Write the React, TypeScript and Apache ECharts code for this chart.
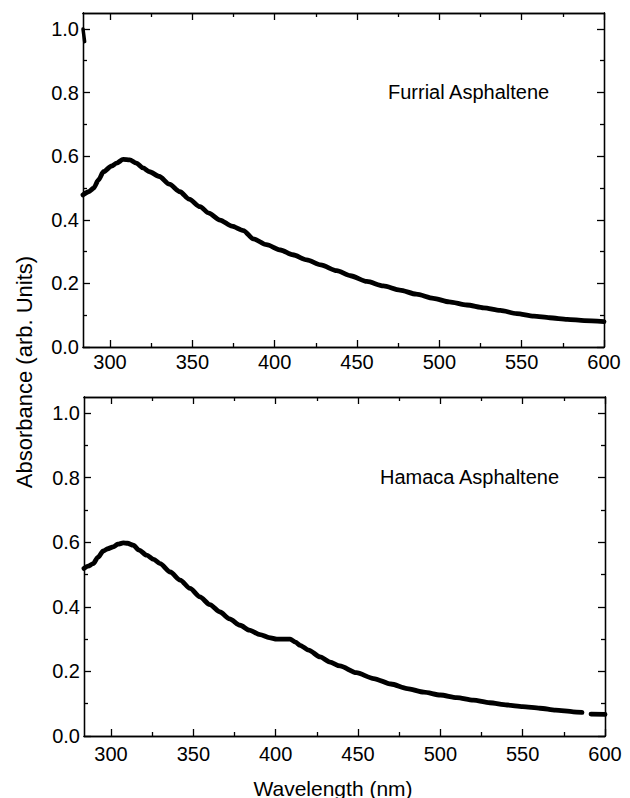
import React, { useEffect, useRef } from "react";
import * as echarts from "echarts";

// ---- data ----
const furrialWavelength = [283.6, 287, 290, 293, 296, 301, 304, 308, 312, 316, 320, 324, 330, 336, 342.5, 348, 354.7, 360, 366.8, 374, 381, 387, 395, 403.5, 411, 419.5, 428, 437.7, 446, 456, 466, 476, 486, 496.4, 506, 516.7, 527, 537, 547, 557.4, 567, 577.7, 588, 600];
const furrialAbsorbance = [0.478, 0.488, 0.499, 0.525, 0.551, 0.569, 0.578, 0.59, 0.588, 0.578, 0.563, 0.551, 0.536, 0.512, 0.488, 0.465, 0.441, 0.421, 0.399, 0.38, 0.366, 0.34, 0.322, 0.305, 0.29, 0.274, 0.258, 0.24, 0.224, 0.206, 0.192, 0.179, 0.166, 0.153, 0.142, 0.132, 0.123, 0.115, 0.105, 0.097, 0.092, 0.087, 0.083, 0.08];
const furrialSpikeWavelength = [283.6, 284.6];
const furrialSpikeAbsorbance = [1.0, 0.96];

const hamacaWavelength = [283.6, 286, 289.2, 292, 295.3, 298, 301.4, 304, 307.5, 310, 313.5, 317, 321.7, 326, 329.8, 336, 342, 348, 354, 360, 366.2, 372, 378.4, 384, 390.5, 396, 400.7, 405, 408.8, 412, 414.8, 420, 427, 433, 439, 449, 459.5, 470, 479.8, 490, 500, 510, 520, 530, 540.5, 550, 560.5, 570, 580.7, 586, 588, 591.5, 600];
const hamacaAbsorbance: (number | null)[] = [0.519, 0.526, 0.534, 0.553, 0.573, 0.58, 0.586, 0.594, 0.598, 0.597, 0.591, 0.576, 0.56, 0.547, 0.534, 0.508, 0.483, 0.457, 0.431, 0.407, 0.384, 0.363, 0.343, 0.328, 0.314, 0.305, 0.3, 0.3, 0.3, 0.291, 0.281, 0.266, 0.245, 0.229, 0.217, 0.196, 0.178, 0.161, 0.147, 0.136, 0.127, 0.119, 0.111, 0.103, 0.096, 0.091, 0.086, 0.08, 0.075, 0.073, null, 0.068, 0.067];

const xMajorTicks = [300, 350, 400, 450, 500, 550, 600];
const xMinorTicks = [325, 375, 425, 475, 525, 575];
const yMajorTicks = [0, 0.2, 0.4, 0.6, 0.8, 1.0];
const yMinorTicks = [0.1, 0.3, 0.5, 0.7, 0.9];

const X_MIN = 283.6;
const X_MAX = 600;
const Y_MIN = 0;
const Y_MAX = 1.05;

const panelLabels = ["Furrial Asphaltene", "Hamaca Asphaltene"];
const yTitle = "Absorbance (arb. Units)";
const xTitle = "Wavelength (nm)";

const FONT = "Liberation Sans, Arial, Helvetica, sans-serif";

function pairs(xs: number[], ys: (number | null)[]) {
  return xs.map((x, i) => (ys[i] === null ? [x, "-"] : [x, ys[i]]));
}

function buildAxes(gridIndex: number, labelMargin: number) {
  const line = { show: true, onZero: false, lineStyle: { color: "#000", width: 1.3 } };
  const tickStyle = { color: "#000", width: 1.3 };
  const xBase = (position: string, ticks: number[], len: number, showLabel: boolean) => ({
    type: "value",
    gridIndex,
    position,
    min: X_MIN,
    max: X_MAX,
    splitLine: { show: false },
    axisLine: line,
    axisTick: { show: true, inside: true, length: len, customValues: ticks, lineStyle: tickStyle },
    axisLabel: showLabel
      ? { show: true, customValues: ticks, margin: labelMargin, fontSize: 20, color: "#000", fontFamily: FONT }
      : { show: false },
  });
  const yBase = (position: string, ticks: number[], len: number, showLabel: boolean) => ({
    type: "value",
    gridIndex,
    position,
    min: Y_MIN,
    max: Y_MAX,
    splitLine: { show: false },
    axisLine: line,
    axisTick: { show: true, inside: true, length: len, customValues: ticks, lineStyle: tickStyle },
    axisLabel: showLabel
      ? {
          show: true,
          customValues: ticks,
          margin: 4,
          fontSize: 20,
          color: "#000",
          fontFamily: FONT,
          formatter: (v: number) => v.toFixed(1),
        }
      : { show: false },
  });
  return {
    x: [
      xBase("bottom", xMajorTicks, 7, true),
      xBase("bottom", xMinorTicks, 4, false),
      xBase("top", xMajorTicks, 7, false),
      xBase("top", xMinorTicks, 4, false),
    ],
    y: [
      yBase("left", yMajorTicks, 7, true),
      yBase("left", yMinorTicks, 4, false),
      yBase("right", yMajorTicks, 7, false),
      yBase("right", yMinorTicks, 4, false),
    ],
  };
}

export default function App() {
  const ref = useRef<HTMLDivElement>(null);
  useEffect(() => {
    if (!ref.current) return;
    const chart = echarts.init(ref.current, null, { renderer: "svg" });
    const a0 = buildAxes(0, 5);
    const a1 = buildAxes(1, 8);
    const lineStyle = { color: "#000", width: 4.8, cap: "round", join: "round" };
    const option = {
      animation: false,
      backgroundColor: "#fff",
      grid: [
        { left: 83, top: 13, width: 521, height: 334 },
        { left: 84, top: 397, width: 521, height: 339 },
      ],
      xAxis: [...a0.x, ...a1.x],
      yAxis: [...a0.y, ...a1.y],
      series: [
        {
          type: "line",
          xAxisIndex: 0,
          yAxisIndex: 0,
          data: pairs(furrialWavelength, furrialAbsorbance),
          showSymbol: false,
          symbol: "none",
          smooth: 0.25,
          smoothMonotone: "x",
          lineStyle,
        },
        {
          type: "line",
          xAxisIndex: 0,
          yAxisIndex: 0,
          data: pairs(furrialSpikeWavelength, furrialSpikeAbsorbance),
          showSymbol: false,
          symbol: "none",
          lineStyle: { ...lineStyle, width: 3.5 },
        },
        {
          type: "line",
          xAxisIndex: 4,
          yAxisIndex: 4,
          data: pairs(hamacaWavelength, hamacaAbsorbance),
          showSymbol: false,
          symbol: "none",
          smooth: 0.25,
          smoothMonotone: "x",
          connectNulls: false,
          lineStyle,
        },
      ],
      graphic: [
        {
          type: "text",
          left: 388,
          top: 82,
          style: { text: panelLabels[0], fontSize: 20, fill: "#000", fontFamily: FONT },
        },
        {
          type: "text",
          left: 380,
          top: 467,
          style: { text: panelLabels[1], fontSize: 20, fill: "#000", fontFamily: FONT },
        },
        {
          type: "text",
          x: 24,
          y: 372,
          rotation: Math.PI / 2,
          style: {
            text: yTitle,
            fontSize: 22,
            fill: "#000",
            fontFamily: FONT,
            align: "center",
            verticalAlign: "middle",
          },
        },
        {
          type: "text",
          x: 333,
          y: 788,
          style: {
            text: xTitle,
            fontSize: 21,
            fill: "#000",
            fontFamily: FONT,
            align: "center",
            verticalAlign: "middle",
          },
        },
      ],
    };
    chart.setOption(option as any);
    return () => chart.dispose();
  }, []);
  return (
    <div
      ref={ref}
      style={{ position: "fixed", left: 0, top: 0, width: 630, height: 798, background: "#fff" }}
    />
  );
}
